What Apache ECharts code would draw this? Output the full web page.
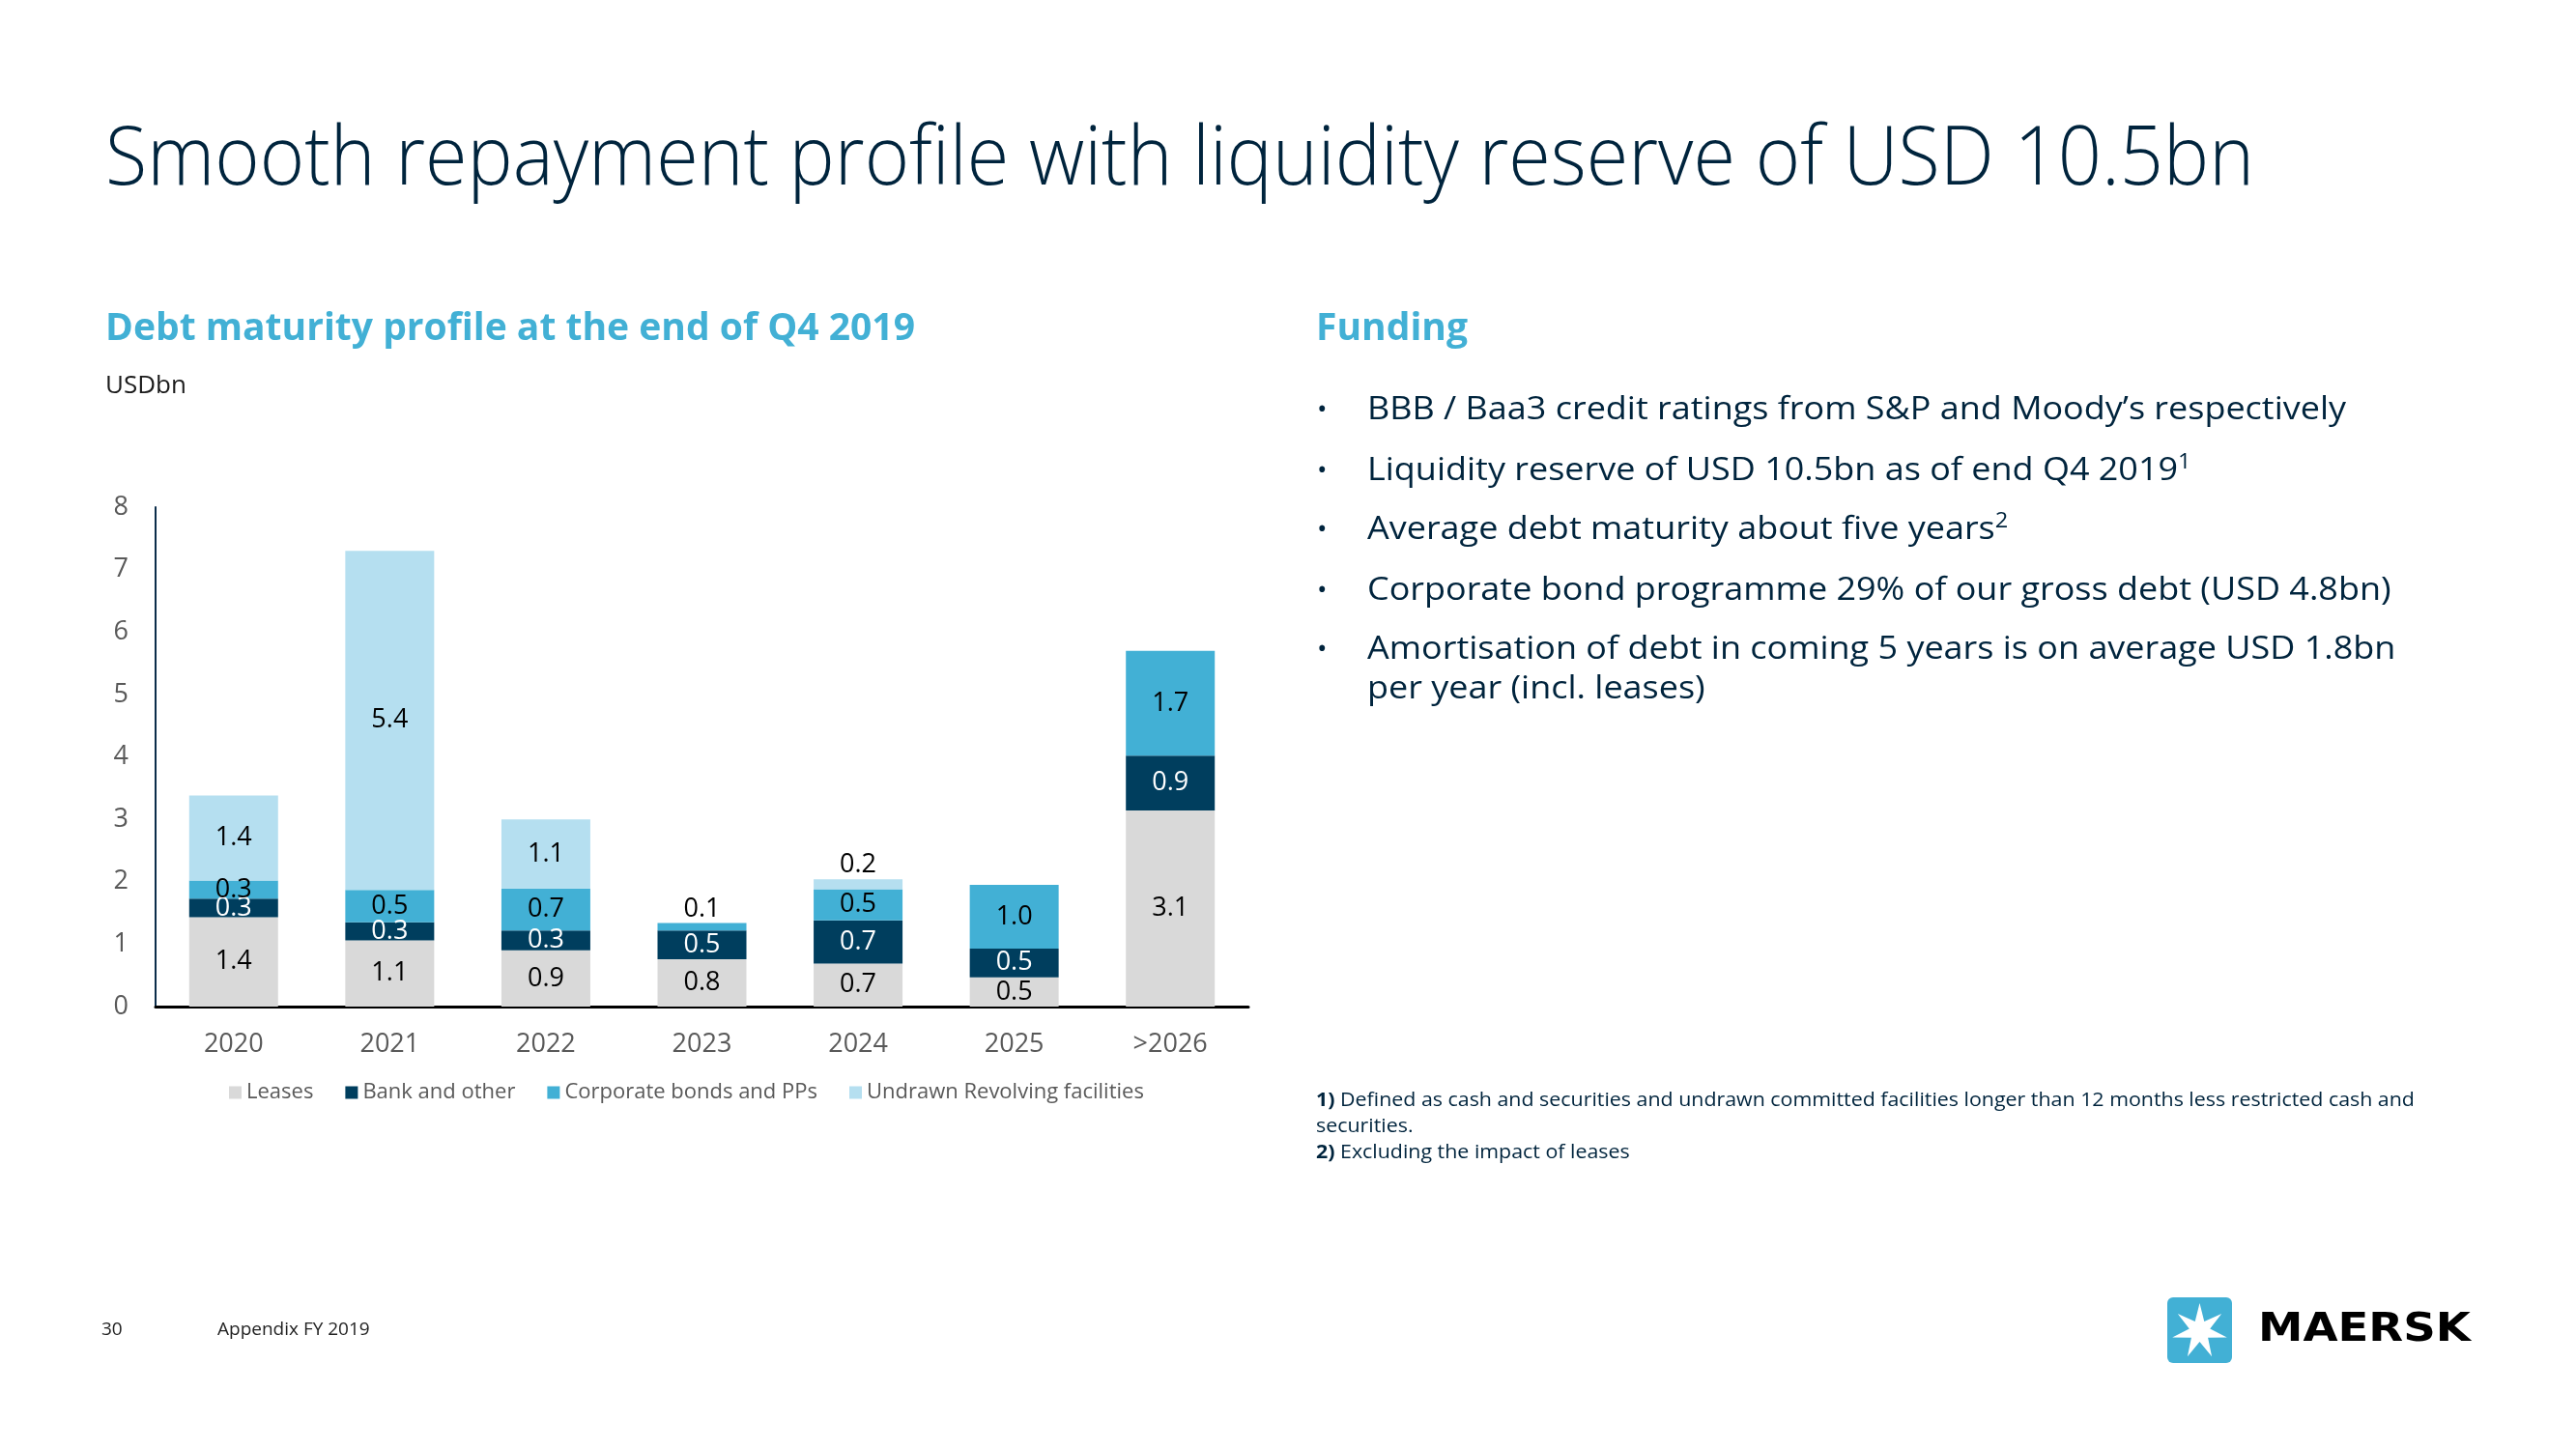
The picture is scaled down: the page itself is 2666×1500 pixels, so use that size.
<!DOCTYPE html>
<html>
<head>
<meta charset="utf-8">
<title>Debt maturity profile</title>
<script src="https://cdn.jsdelivr.net/npm/echarts@6/dist/echarts.min.js"></script>
<style>
html,body{margin:0;padding:0;background:#fff;}
#container{width:2666px;height:1500px;}
</style>
</head>
<body>
<div id="container"></div>
<script>
// chart data (USDbn)
var years = ['2020', '2021', '2022', '2023', '2024', '2025', '>2026'];
var leases = [1.43, 1.06, 0.90, 0.76, 0.69, 0.47, 3.14];
var bankOther = [0.30, 0.29, 0.32, 0.46, 0.69, 0.46, 0.88];
var corpBonds = [0.29, 0.52, 0.67, 0.12, 0.50, 1.02, 1.68];
var undrawn = [1.36, 5.43, 1.11, 0, 0.16, 0, 0];
var seriesNames = ['Leases', 'Bank and other', 'Corporate bonds and PPs', 'Undrawn Revolving facilities'];
var seriesColors = ['#d9d9d9', '#003e5e', '#42b0d5', '#b5dff0'];
var labelColors = ['#000', '#fff', '#000', '#000'];

var bullets = [
    'BBB / Baa3 credit ratings from S&P and Moody\u2019s respectively',
    'Liquidity reserve of USD 10.5bn as of end Q4 2019{sup|1}',
    'Average debt maturity about five years{sup|2}',
    'Corporate bond programme 29% of our gross debt (USD 4.8bn)',
    'Amortisation of debt in coming 5 years is on average USD 1.8bn\nper year (incl. leases)'
];
var notes = '{b|1)} Defined as cash and securities and undrawn committed facilities longer than 12 months less restricted cash and\nsecurities.\n{b|2)} Excluding the impact of leases';

var navy = '#00243d';
var blue = '#42b0d5';
var ff = '"Open Sans", "Noto Sans", sans-serif';

var dom = document.getElementById("container");
var myChart = echarts.init(dom);

var ctx = document.createElement('canvas').getContext('2d');
function fitScale(text, weight, size, family, target) {
    ctx.font = weight + ' ' + size + 'px ' + family;
    return target / ctx.measureText(text).width;
}

function makeData(arr) {
    return arr.map(function (v) {
        var item = {value: v};
        if (v > 0 && v < 0.2) {
            item.label = {position: 'top', distance: 1};
        }
        return item;
    });
}

var stacks = [leases, bankOther, corpBonds, undrawn];
var series = stacks.map(function (arr, i) {
    return {
        name: seriesNames[i],
        type: 'bar',
        stack: 'debt',
        barWidth: 92,
        itemStyle: {color: seriesColors[i]},
        label: {
            show: true,
            position: 'inside',
            color: labelColors[i],
            fontSize: 27,
            fontFamily: ff,
            textBorderWidth: 0,
            formatter: function (p) {
                return p.value > 0 ? p.value.toFixed(1) : '';
            }
        },
        data: makeData(arr)
    };
});

// text blocks of the slide
var title = 'Smooth repayment profile with liquidity reserve of USD 10.5bn';
var sub = 'Debt maturity profile at the end of Q4 2019';
var titleScale = fitScale(title, '300', 84, ff, 2224);
var subScale = fitScale(sub, 'bold', 40, ff, 838);
var bulletScale = fitScale(bullets[0], 'normal', 32, ff, 1013);
var noteScale = fitScale('1) Defined as cash and securities and undrawn committed facilities longer than 12 months less restricted cash and', 'normal', 20, ff, 1136);
var logoScale = fitScale('MAERSK', 'bold', 41, '"DejaVu Sans"', 220);

var graphic = [
    {type: 'text', x: 109, y: 167, scaleX: titleScale,
        style: {text: title, fill: navy, fontSize: 84, fontWeight: 300, fontFamily: ff, textVerticalAlign: 'middle', verticalAlign: 'middle'}},
    {type: 'text', x: 109, y: 341, scaleX: subScale,
        style: {text: sub, fill: blue, fontSize: 40, fontWeight: 'bold', fontFamily: ff, textVerticalAlign: 'middle', verticalAlign: 'middle'}},
    {type: 'text', x: 1362, y: 341, scaleX: subScale,
        style: {text: 'Funding', fill: blue, fontSize: 40, fontWeight: 'bold', fontFamily: ff, textVerticalAlign: 'middle', verticalAlign: 'middle'}},
    {type: 'text', x: 109, y: 400,
        style: {text: 'USDbn', fill: '#1a1a1a', fontSize: 26, fontFamily: ff, textVerticalAlign: 'middle', verticalAlign: 'middle'}},
    {type: 'text', x: 1362, y: 1126, scaleX: noteScale,
        style: {text: notes, fill: navy, fontSize: 20, fontFamily: ff, lineHeight: 27, textVerticalAlign: 'top', verticalAlign: 'top',
            rich: {b: {fontWeight: 'bold', fontSize: 20, fontFamily: ff, fill: navy, lineHeight: 27}}}},
    {type: 'text', x: 105, y: 1377,
        style: {text: '30', fill: '#222', fontSize: 19, fontFamily: ff, textVerticalAlign: 'middle', verticalAlign: 'middle'}},
    {type: 'text', x: 225, y: 1377,
        style: {text: 'Appendix FY 2019', fill: '#222', fontSize: 19, fontFamily: ff, textVerticalAlign: 'middle', verticalAlign: 'middle'}},
    {type: 'rect', shape: {x: 2243, y: 1343, width: 67, height: 68, r: 6}, style: {fill: blue}},
    {type: 'text', x: 2337, y: 1377, scaleX: logoScale,
        style: {text: 'MAERSK', fill: '#000', fontSize: 41, fontWeight: 'bold', fontFamily: '"DejaVu Sans", sans-serif', textVerticalAlign: 'middle', verticalAlign: 'middle'}}
];

// seven pointed star of the logo
var starPts = [];
for (var k = 0; k < 14; k++) {
    var ang = -Math.PI / 2 + k * Math.PI / 7;
    var rad = k % 2 === 0 ? 29 : 11;
    starPts.push([2276.5 + rad * Math.cos(ang), 1378 + rad * Math.sin(ang)]);
}
graphic.push({type: 'polygon', shape: {points: starPts}, style: {fill: '#fff'}});

var bulletY = [425, 488, 549, 612, 673];
bullets.forEach(function (b, i) {
    graphic.push({type: 'text', x: 1363, y: bulletY[i],
        style: {text: '\u2022', fill: navy, fontSize: 28, fontFamily: ff, textVerticalAlign: 'middle', verticalAlign: 'middle'}});
    graphic.push({type: 'text', x: 1415, y: bulletY[i] - 20.5, scaleX: bulletScale,
        style: {text: b, fill: navy, fontSize: 32, fontFamily: ff, lineHeight: 41, textVerticalAlign: 'top', verticalAlign: 'top',
            rich: {sup: {fontSize: 21, fontFamily: ff, fill: navy, lineHeight: 41, verticalAlign: 'top', padding: [1, 0, 0, 0]}}}});
});

var option = {
    backgroundColor: '#fff',
    animation: false,
    textStyle: {fontFamily: ff},
    grid: {left: 161, top: 525, width: 1131, height: 517},
    legend: {
        data: seriesNames,
        left: 232,
        top: 1115,
        icon: 'rect',
        itemWidth: 13,
        itemHeight: 13,
        itemGap: 33,
        textStyle: {color: '#595959', fontSize: 22, fontFamily: ff}
    },
    xAxis: {
        type: 'category',
        data: years,
        axisLine: {lineStyle: {color: '#000', width: 3}},
        axisTick: {show: false},
        axisLabel: {color: '#595959', fontSize: 27, margin: 26, fontFamily: ff}
    },
    yAxis: {
        type: 'value',
        min: 0,
        max: 8,
        interval: 1,
        splitLine: {show: false},
        axisLine: {show: true, lineStyle: {color: '#0b2d4a', width: 2}},
        axisTick: {show: false},
        axisLabel: {color: '#595959', fontSize: 27, margin: 28, fontFamily: ff}
    },
    series: series,
    graphic: graphic
};
myChart.setOption(option);
</script>
</body>
</html>
